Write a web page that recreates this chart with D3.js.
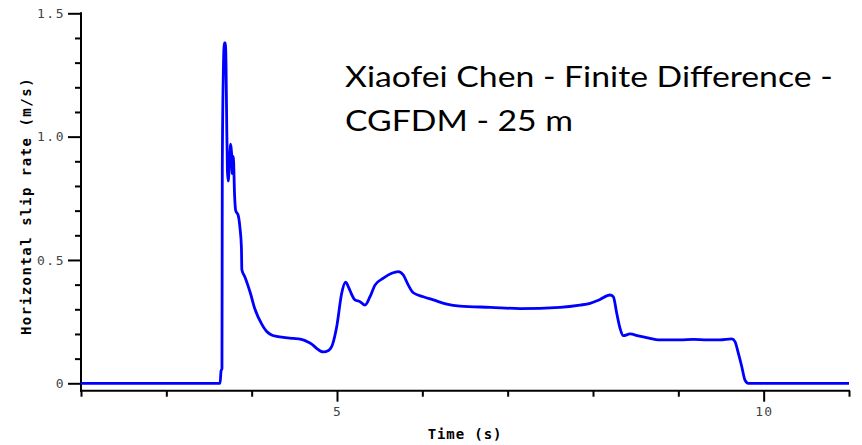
<!DOCTYPE html>
<html>
<head>
<meta charset="utf-8">
<script src="https://cdn.jsdelivr.net/npm/d3@7"></script>
<style>
  html, body { margin: 0; padding: 0; background: #fff; }
  svg { display: block; }
</style>
</head>
<body>
<svg id="chart" width="862" height="445"></svg>
<script>
// ---- data ----
const timeS = [2.0, 3.63, 3.641, 3.652, 3.656, 3.668, 3.680, 3.692, 3.700, 3.707, 3.716, 3.725,
  3.740, 3.754, 3.765, 3.772, 3.785, 3.800, 3.813, 3.843, 3.863, 3.880, 3.885, 3.922, 3.981,
  4.039, 4.118, 4.176, 4.240, 4.293, 4.400, 4.488, 4.580, 4.645, 4.700, 4.760, 4.840, 4.900,
  4.950, 4.997, 5.055, 5.100, 5.135,
  5.172, 5.211, 5.270, 5.328, 5.387, 5.445, 5.543, 5.641, 5.718, 5.777, 5.836, 5.894, 6.011,
  6.129, 6.286, 6.441, 6.800, 7.145, 7.613, 7.848, 7.965, 8.082, 8.199, 8.238, 8.278, 8.317,
  8.355, 8.434, 8.531, 8.668, 8.765, 9.020, 9.176, 9.333, 9.488, 9.626, 9.664, 9.703, 9.743,
  9.781, 9.820, 11.0];
const slipRate = [0, 0, 0.05, 0.06, 0.88, 1.26, 1.38, 1.38, 1.28, 1.07, 0.86, 0.82,
  0.90, 0.97, 0.93, 0.85, 0.92, 0.76, 0.70, 0.68, 0.63, 0.55, 0.46, 0.43, 0.37,
  0.30, 0.24, 0.21, 0.195, 0.19, 0.185, 0.182, 0.178, 0.17, 0.16, 0.142, 0.127, 0.133,
  0.16, 0.23, 0.365, 0.41, 0.39,
  0.36, 0.338, 0.331, 0.317, 0.351, 0.398, 0.426, 0.446, 0.453, 0.439, 0.398, 0.367, 0.351,
  0.338, 0.321, 0.313, 0.308, 0.303, 0.308, 0.317, 0.324, 0.34, 0.358, 0.351, 0.284, 0.223,
  0.193, 0.20, 0.192, 0.182, 0.176, 0.176, 0.178, 0.176, 0.176, 0.18, 0.169, 0.122, 0.068,
  0.013, 0, 0];
const xTicks = [2, 3, 4, 5, 6, 7, 8, 9, 10, 11];
const xLabelTicks = [5, 10];
const yTicks = [0, 0.1, 0.2, 0.3, 0.4, 0.5, 0.6, 0.7, 0.8, 0.9, 1.0, 1.1, 1.2, 1.3, 1.4, 1.5];
const yLabelTicks = [0, 0.5, 1.0, 1.5];
const yTickText = {"0": "0", "0.5": "0.5", "1": "1.0", "1.5": "1.5"};
const xTitle = "Time (s)";
const yTitle = "Horizontal slip rate (m/s)";
const titleLines = ["Xiaofei Chen - Finite Difference -", "CGFDM - 25 m"];

// ---- layout ----
const svg = d3.select("#chart");
const x = d3.scaleLinear().domain([2, 11]).range([81, 849]);
const y = d3.scaleLinear().domain([0, 1.5]).range([383.3, 13.3]);
const axisY = y(-0.03);
const mono = "'DejaVu Sans Mono', monospace";

// y axis
const isMajorY = v => yLabelTicks.some(t => Math.abs(t - v) < 1e-9);
const gy = svg.append("g").attr("transform", `translate(${x(2)},0)`)
  .call(d3.axisLeft(y).tickValues(yTicks).tickSizeOuter(0)
    .tickFormat(v => isMajorY(v) ? yTickText[String(+v.toFixed(1))] : ""));
gy.select(".domain").remove();
gy.selectAll(".tick line").attr("stroke", "#000").attr("stroke-width", 2)
  .attr("x2", d => isMajorY(d) ? -13 : -6);
gy.selectAll(".tick text").attr("x", -16).attr("fill", "#444")
  .style("font-family", mono).style("font-size", "13px").style("letter-spacing", "1.5px");
svg.append("line").attr("x1", x(2)).attr("x2", x(2)).attr("y1", y(1.5) - 1).attr("y2", axisY + 1)
  .attr("stroke", "#000").attr("stroke-width", 2);

// x axis
const isMajorX = v => xLabelTicks.includes(v);
const gx = svg.append("g").attr("transform", `translate(0,${axisY})`)
  .call(d3.axisBottom(x).tickValues(xTicks).tickSizeOuter(0)
    .tickFormat(v => isMajorX(v) ? String(v) : ""));
gx.select(".domain").remove();
gx.selectAll(".tick line").attr("stroke", "#000").attr("stroke-width", 2)
  .attr("y2", d => isMajorX(d) ? 11 : 6);
gx.selectAll(".tick text").attr("y", 16).attr("dy", "0.71em").attr("fill", "#444")
  .style("font-family", mono).style("font-size", "13px").style("letter-spacing", "1px");
svg.append("line").attr("x1", x(2) - 1).attr("x2", x(11) + 1).attr("y1", axisY).attr("y2", axisY)
  .attr("stroke", "#000").attr("stroke-width", 2);

// axis titles
svg.append("text").attr("x", 465).attr("y", 439).attr("text-anchor", "middle")
  .style("font-family", mono).style("font-weight", "bold").style("font-size", "14px")
  .style("letter-spacing", "0.9px").text(xTitle);
svg.append("text").attr("transform", "translate(31,206) rotate(-90)").attr("text-anchor", "middle")
  .style("font-family", mono).style("font-weight", "bold").style("font-size", "14px")
  .style("letter-spacing", "1.5px").text(yTitle);

// data line
const pts = timeS.map((t, i) => [t, slipRate[i]]);
svg.append("path").datum(pts)
  .attr("fill", "none").attr("stroke", "#0000ff").attr("stroke-width", 2.8)
  .attr("stroke-linejoin", "round")
  .attr("d", d3.line().curve(d3.curveMonotoneX).x(d => x(d[0])).y(d => y(d[1])));

// title
const tg = svg.append("g");
const t1 = tg.append("text").attr("x", 0).attr("y", 87.5)
  .style("font-family", "Lato, 'Open Sans', sans-serif").style("font-size", "28.5px").attr("fill", "#000")
  .text(titleLines[0]);
tg.append("text").attr("x", 0).attr("y", 131.5)
  .style("font-family", "Lato, 'Open Sans', sans-serif").style("font-size", "28.5px").attr("fill", "#000")
  .text(titleLines[1]);
const w = t1.node().getComputedTextLength();
const sx = 488 / w;
tg.attr("transform", `translate(345,0) scale(${sx},1)`);
</script>
</body>
</html>
